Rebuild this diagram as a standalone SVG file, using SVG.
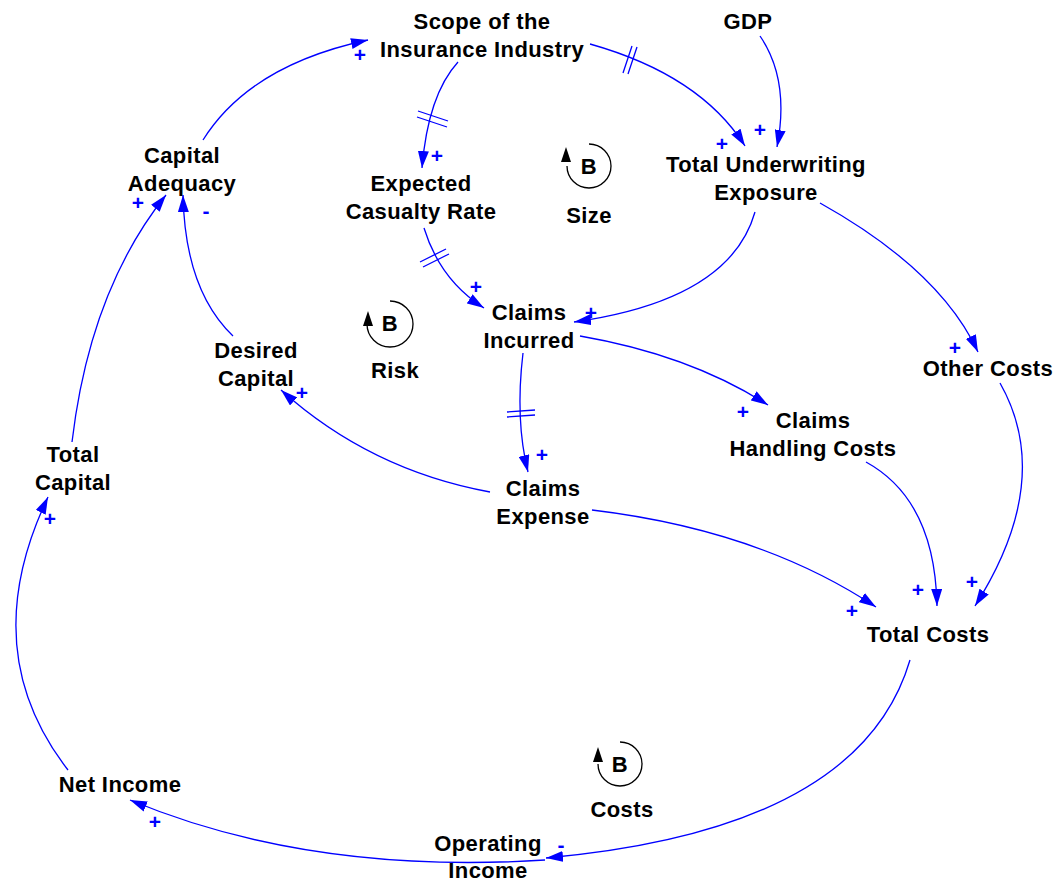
<svg xmlns="http://www.w3.org/2000/svg" width="1060" height="884" viewBox="0 0 1060 884">
<style>
.n{font-family:"Liberation Sans",Arial,sans-serif;font-weight:bold;font-size:22px;letter-spacing:0.4px;fill:#000;text-anchor:middle}
.s{font-family:"Liberation Sans",Arial,sans-serif;font-weight:bold;font-size:21px;fill:#0000ff;text-anchor:middle}
.c{fill:none;stroke:#0000ff;stroke-width:1.3;marker-end:url(#ah)}
.d{fill:none;stroke:#0000ff;stroke-width:1.3}
.lp{fill:none;stroke:#000;stroke-width:1.3}
</style>
<defs>
<marker id="ah" markerUnits="userSpaceOnUse" markerWidth="17" markerHeight="11" viewBox="0 0 17 11" refX="17" refY="5.5" orient="auto">
<path d="M0,0 L17,5.5 L0,11 z" fill="#0000ff"/>
</marker>
</defs>
<rect width="1060" height="884" fill="#fff"/>
<g id="connectors">
<path class="c" d="M203,140 Q250,65 368,40"/>
<path class="c" d="M458,62 Q428,95 422,168"/>
<path class="d" d="M418,111 L448,121 M417,117 L447,127"/>
<path class="c" d="M590,44 Q700,75 745,146"/>
<path class="d" d="M632,46 L623,73 M637,47 L628,74"/>
<path class="c" d="M760,36 Q790,80 777,147"/>
<path class="c" d="M424,228 Q440,280 484,308"/>
<path class="d" d="M420,262 L446,249 M423,267 L449,254"/>
<path class="c" d="M755,212 Q730,300 574,322"/>
<path class="c" d="M523,353 Q515,420 528,472"/>
<path class="d" d="M507,412 L535,410 M507,417 L535,415"/>
<path class="c" d="M580,336 Q690,355 768,405"/>
<path class="c" d="M820,203 Q940,270 978,352"/>
<path class="c" d="M866,462 Q935,500 937,606"/>
<path class="c" d="M1000,383 Q1055,480 975,606"/>
<path class="c" d="M592,510 Q760,530 876,607"/>
<path class="c" d="M490,492 Q370,470 281,390"/>
<path class="c" d="M233,336 Q185,290 183,195"/>
<path class="c" d="M72,442 Q90,290 166,195"/>
<path class="c" d="M68,770 Q-25,650 48,497"/>
<path class="c" d="M545,860 Q310,875 130,800"/>
<path class="c" d="M910,660 Q860,830 546,858"/>
</g>
<g id="signs">
<text class="s" x="360" y="62">+</text>
<text class="s" x="437" y="163">+</text>
<text class="s" x="722" y="151">+</text>
<text class="s" x="760" y="137">+</text>
<text class="s" x="476" y="294">+</text>
<text class="s" x="591" y="320">+</text>
<text class="s" x="542" y="462">+</text>
<text class="s" x="743" y="419">+</text>
<text class="s" x="955" y="355">+</text>
<text class="s" x="918" y="597">+</text>
<text class="s" x="972" y="589">+</text>
<text class="s" x="852" y="618">+</text>
<text class="s" x="302" y="400">+</text>
<text class="s" x="206" y="218">-</text>
<text class="s" x="138" y="210">+</text>
<text class="s" x="50" y="526">+</text>
<text class="s" x="155" y="829">+</text>
<text class="s" x="561" y="852">-</text>
</g>
<g id="scope"><text class="n" x="482" y="29">Scope of the</text><text class="n" x="482" y="57">Insurance Industry</text></g>
<g id="gdp"><text class="n" x="748" y="29">GDP</text></g>
<g id="capital-adequacy"><text class="n" x="182" y="163">Capital</text><text class="n" x="182" y="191">Adequacy</text></g>
<g id="expected-casualty-rate"><text class="n" x="421" y="191">Expected</text><text class="n" x="421" y="219">Casualty Rate</text></g>
<g id="total-underwriting-exposure"><text class="n" x="766" y="172">Total Underwriting</text><text class="n" x="766" y="200">Exposure</text></g>
<g id="claims-incurred"><text class="n" x="529" y="320">Claims</text><text class="n" x="529" y="348">Incurred</text></g>
<g id="desired-capital"><text class="n" x="256" y="358">Desired</text><text class="n" x="256" y="386">Capital</text></g>
<g id="other-costs"><text class="n" x="988" y="376">Other Costs</text></g>
<g id="claims-handling-costs"><text class="n" x="813" y="428">Claims</text><text class="n" x="813" y="456">Handling Costs</text></g>
<g id="total-capital"><text class="n" x="73" y="462">Total</text><text class="n" x="73" y="490">Capital</text></g>
<g id="claims-expense"><text class="n" x="543" y="496">Claims</text><text class="n" x="543" y="524">Expense</text></g>
<g id="total-costs"><text class="n" x="928" y="642">Total Costs</text></g>
<g id="net-income"><text class="n" x="120" y="792">Net Income</text></g>
<g id="operating-income"><text class="n" x="488" y="851">Operating</text><text class="n" x="488" y="878">Income</text></g>
<g id="loop-size">
<path class="lp" d="M589,144 A22,22 0 1,1 567,166"/>
<polygon points="566,147 561,162 571,162" fill="#000"/>
<text class="n" x="589" y="174">B</text>
<text class="n" x="589" y="223">Size</text>
</g>
<g id="loop-risk">
<path class="lp" d="M390,301 A23,23 0 1,1 367,324"/>
<polygon points="368,311 363,326 373,326" fill="#000"/>
<text class="n" x="390" y="331">B</text>
<text class="n" x="395" y="378">Risk</text>
</g>
<g id="loop-costs">
<path class="lp" d="M620,742 A22,22 0 1,1 598,764"/>
<polygon points="598,747 593,762 603,762" fill="#000"/>
<text class="n" x="620" y="772">B</text>
<text class="n" x="622" y="817">Costs</text>
</g>
</svg>
